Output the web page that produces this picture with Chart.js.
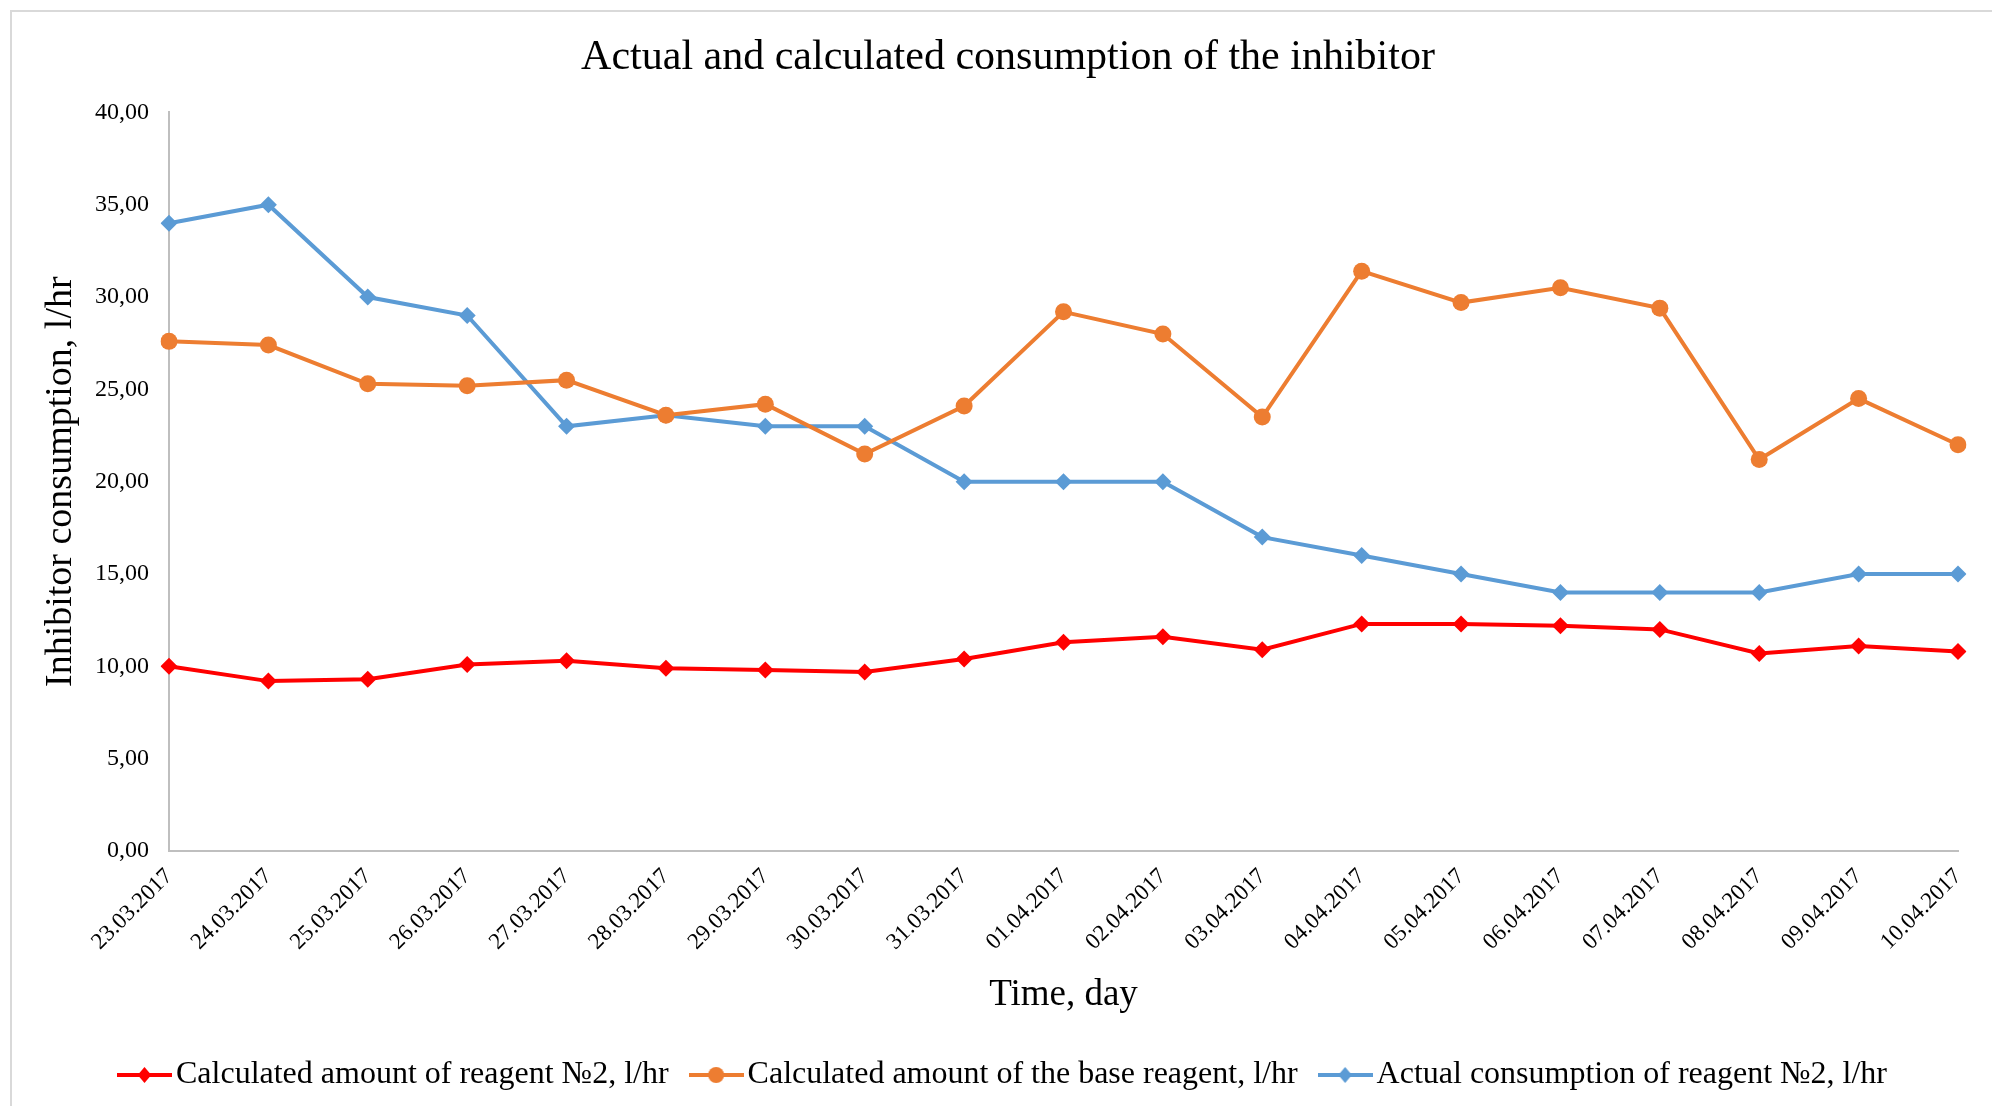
<!DOCTYPE html>
<html>
<head>
<meta charset="utf-8">
<script src="https://cdn.jsdelivr.net/npm/chart.js@4/dist/chart.umd.min.js"></script>
<style>
  html, body { margin: 0; padding: 0; background: #fff; }
  #wrap { position: relative; width: 1992px; height: 1106px; overflow: hidden; }
  #frame { position: absolute; left: 10px; top: 10px; width: 2000px; height: 1200px; border: 2px solid #d9d9d9; box-sizing: border-box; pointer-events: none; }
  canvas { position: absolute; left: 0; top: 0; }
</style>
</head>
<body>
<div id="wrap">
  <div id="frame"></div>
  <canvas id="c" width="1992" height="1106"></canvas>
</div>
<script>
const categories = ["23.03.2017","24.03.2017","25.03.2017","26.03.2017","27.03.2017","28.03.2017","29.03.2017","30.03.2017","31.03.2017","01.04.2017","02.04.2017","03.04.2017","04.04.2017","05.04.2017","06.04.2017","07.04.2017","08.04.2017","09.04.2017","10.04.2017"];
const calcReagent2 = [10.0, 9.2, 9.3, 10.1, 10.3, 9.9, 9.8, 9.7, 10.4, 11.3, 11.6, 10.9, 12.3, 12.3, 12.2, 12.0, 10.7, 11.1, 10.8];
const calcBase = [27.6, 27.4, 25.3, 25.2, 25.5, 23.6, 24.2, 21.5, 24.1, 29.2, 28.0, 23.5, 31.4, 29.7, 30.5, 29.4, 21.2, 24.5, 22.0];
const actualReagent2 = [34.0, 35.0, 30.0, 29.0, 23.0, 23.6, 23.0, 23.0, 20.0, 20.0, 20.0, 17.0, 16.0, 15.0, 14.0, 14.0, 14.0, 15.0, 15.0];
const seriesNames = ["Calculated amount of reagent №2, l/hr", "Calculated amount of the base reagent, l/hr", "Actual consumption of reagent №2, l/hr"];
const titleText = "Actual and calculated consumption of the inhibitor";
const yTitle = "Inhibitor consumption, l/hr";
const xTitle = "Time, day";

const colors = ["#FF0000", "#ED7D31", "#5B9BD5"];
const styles = ["rectRot", "circle", "rectRot"];
const FONT = "'Liberation Serif', 'Times New Roman', serif";
const PAD_BOTTOM = 5;

function legendIcon(color, style) {
  const w = 55, h = 22;
  const cv = document.createElement('canvas');
  cv.width = w; cv.height = h;
  const g = cv.getContext('2d');
  g.strokeStyle = color; g.lineWidth = 4;
  g.beginPath(); g.moveTo(0, h / 2); g.lineTo(w, h / 2); g.stroke();
  g.fillStyle = color;
  const r = 8;
  g.beginPath();
  if (style === 'circle') {
    g.arc(w / 2, h / 2, r, 0, Math.PI * 2);
  } else {
    g.moveTo(w / 2, h / 2 - r); g.lineTo(w / 2 + r * 0.85, h / 2);
    g.lineTo(w / 2, h / 2 + r); g.lineTo(w / 2 - r * 0.85, h / 2); g.closePath();
  }
  g.fill();
  return cv;
}

const dataArrays = [calcReagent2, calcBase, actualReagent2];
const datasets = dataArrays.map((d, i) => ({
  label: seriesNames[i],
  data: d,
  borderColor: colors[i],
  backgroundColor: colors[i],
  borderWidth: 4,
  pointStyle: styles[i],
  pointRadius: 8.5,
  pointHoverRadius: 8.5,
  pointBorderWidth: 0,
  tension: 0
}));

const icons = colors.map((c, i) => legendIcon(c, styles[i]));

new Chart(document.getElementById('c'), {
  type: 'line',
  data: { labels: categories, datasets },
  options: {
    responsive: false,
    animation: false,
    devicePixelRatio: 1,
    layout: { padding: { left: 34, right: 10, top: 0, bottom: PAD_BOTTOM } },
    plugins: {
      title: {
        display: true, text: titleText, color: '#000',
        font: { family: FONT, size: 42, weight: 'normal' },
        padding: { top: 33, bottom: 29 }
      },
      legend: {
        position: 'bottom',
        labels: {
          color: '#000',
          font: { family: FONT, size: 32 },
          usePointStyle: true,
          pointStyleWidth: 31,
          padding: 32,
          generateLabels(chart) {
            const items = Chart.defaults.plugins.legend.labels.generateLabels(chart);
            items.forEach((it) => { it.pointStyle = icons[it.datasetIndex]; });
            return items;
          }
        }
      },
      tooltip: { enabled: false }
    },
    scales: {
      x: {
        offset: false,
        grid: { display: false, drawTicks: false },
        border: { display: true, color: '#bfbfbf', width: 2 },
        ticks: {
          color: '#000', font: { family: FONT, size: 23 },
          minRotation: 45, maxRotation: 45, padding: 12, autoSkip: false
        },
        title: {
          display: true, text: xTitle, color: '#000',
          font: { family: FONT, size: 37 },
          padding: { top: 0, bottom: 10 }
        },
        afterFit(scale) {
          const ch = scale.chart;
          const legendH = ch.legend ? ch.legend.height : 0;
          scale.height = ch.height - 851 - legendH - PAD_BOTTOM;
        }
      },
      y: {
        min: 0, max: 40,
        grid: { display: false, drawTicks: false },
        border: { display: true, color: '#bfbfbf', width: 2 },
        ticks: {
          stepSize: 5, color: '#000', font: { family: FONT, size: 24 }, padding: 20,
          callback: v => v.toFixed(2).replace('.', ',')
        },
        title: {
          display: true, text: yTitle, color: '#000',
          font: { family: FONT, size: 38 },
          padding: { top: 4, bottom: 0 }
        },
        afterFit(scale) { scale.width = 135; }
      },
      yRight: {
        position: 'right',
        display: true,
        grid: { display: false, drawTicks: false },
        border: { display: false },
        ticks: { display: false },
        afterFit(scale) { scale.width = 24; }
      }
    }
  }
});
</script>
</body>
</html>
